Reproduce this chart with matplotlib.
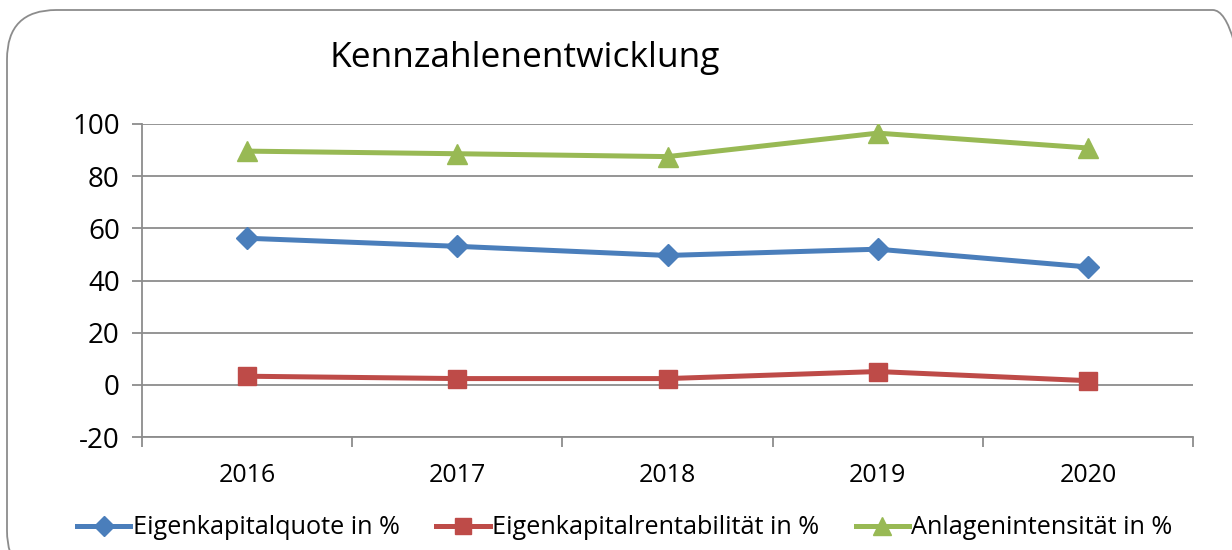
import matplotlib
matplotlib.use("Agg")
import matplotlib.pyplot as plt
from matplotlib.patches import FancyBboxPatch
from matplotlib.ticker import FixedLocator, NullFormatter

plt.rcParams['font.family'] = ['Open Sans', 'DejaVu Sans']

years = ["2016", "2017", "2018", "2019", "2020"]
eigenkapitalquote = [56.2, 53.1, 49.6, 52.0, 45.2]
eigenkapitalrentabilitaet = [3.3, 2.4, 2.4, 5.1, 1.6]
anlagenintensitaet = [89.6, 88.6, 87.5, 96.5, 90.8]
series_names = ["Eigenkapitalquote in %", "Eigenkapitalrentabilität in %", "Anlagenintensität in %"]
y_ticks = [-20, 0, 20, 40, 60, 80, 100]

W, H = 1232, 550
fig = plt.figure(figsize=(W / 100, H / 100), dpi=100)
fig.patch.set_facecolor("white")

# rounded chart border (extends beyond right/bottom edges)
border = FancyBboxPatch((7 / W, -30 / H), (W + 30 - 7) / W, (H + 30 - 10) / H,
                        boxstyle="round,pad=0,rounding_size=0.04",
                        transform=fig.transFigure, fill=False,
                        edgecolor="#8c8c8c", linewidth=1.3, mutation_aspect=W / H)
fig.patches.append(border)

ax = fig.add_axes([142 / W, (H - 437) / H, (1193 - 142) / W, (437 - 124) / H])
x = list(range(len(years)))

ax.plot(x, eigenkapitalquote, color="#4a7ebb", lw=3.6, marker="D", ms=11,
        label=series_names[0], zorder=3)
ax.plot(x, eigenkapitalrentabilitaet, color="#be4b48", lw=3.6, marker="s", ms=13,
        label=series_names[1], zorder=3)
ax.plot(x, anlagenintensitaet, color="#98b954", lw=3.6, marker="^", ms=14,
        label=series_names[2], zorder=3)

ax.set_xlim(-0.5, len(years) - 0.5)
ax.set_ylim(-20, 100)
ax.set_yticks(y_ticks)
ax.set_yticklabels([str(v) for v in y_ticks])
ax.yaxis.grid(True, color="#8c8c8c", lw=1.3)
ax.set_axisbelow(True)

ax.set_xticks(x)
ax.set_xticklabels(years)
ax.tick_params(axis="x", which="major", length=0, pad=19, labelsize=18)
ax.xaxis.set_minor_locator(FixedLocator([i - 0.5 for i in range(len(years) + 1)]))
ax.xaxis.set_minor_formatter(NullFormatter())
ax.tick_params(axis="x", which="minor", length=7, width=1.3, color="#8c8c8c", direction="out")
ax.tick_params(axis="y", length=7, width=1.3, color="#8c8c8c", labelsize=20, pad=9)

for s in ["top", "right"]:
    ax.spines[s].set_visible(False)
ax.spines["left"].set_color("#8c8c8c")
ax.spines["left"].set_linewidth(1.3)
ax.spines["bottom"].set_color("#8c8c8c")
ax.spines["bottom"].set_linewidth(1.3)

fig.text(525 / W, 1 - 58 / H, "Kennzahlenentwicklung", ha="center", va="center",
         fontsize=25.5, color="black")

handles, labels = ax.get_legend_handles_labels()
fig.legend(handles, labels, loc="center", bbox_to_anchor=(625 / W, 1 - 528 / H),
           ncol=3, frameon=False, fontsize=18.2, handlelength=2.1, handletextpad=0.1,
           columnspacing=1.45, markerscale=0.9, borderpad=0)

fig.savefig("out.png", dpi=100)
